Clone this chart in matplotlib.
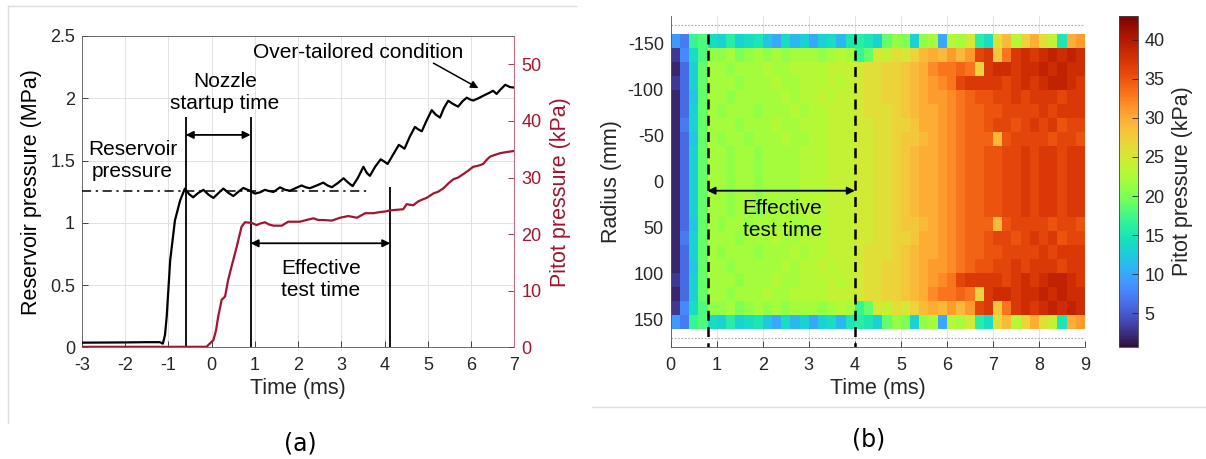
import numpy as np
import matplotlib
matplotlib.use("Agg")
import matplotlib.pyplot as plt
from matplotlib.lines import Line2D

plt.rcParams['font.family'] = ['Liberation Sans', 'DejaVu Sans']
plt.rcParams['axes.unicode_minus'] = False

# ---- (a) reservoir pressure trace, MPa
res_t = [-3.0, -2.0, -1.5, -1.2, -1.13, -1.08, -1.04, -0.96, -0.85, -0.73, -0.62,
         -0.52, -0.43, -0.31, -0.19, -0.07, 0.04, 0.16, 0.27, 0.39, 0.50, 0.62,
         0.73, 0.87, 1.00, 1.12, 1.23, 1.33, 1.43, 1.58, 1.70, 1.81, 1.95, 2.08,
         2.18, 2.27, 2.43, 2.58, 2.68, 2.78, 2.92, 3.05, 3.15, 3.26, 3.38, 3.51,
         3.59, 3.66, 3.78, 3.91, 4.00, 4.07, 4.20, 4.33, 4.40, 4.46, 4.58, 4.70,
         4.78, 4.86, 4.97, 5.09, 5.18, 5.28, 5.37, 5.47, 5.58, 5.70, 5.80, 5.90,
         5.98, 6.05, 6.17, 6.28, 6.40, 6.51, 6.59, 6.68, 6.79, 6.90, 7.00]
res_p = [0.038, 0.040, 0.042, 0.042, 0.030, 0.10, 0.25, 0.70, 1.02, 1.18, 1.275,
         1.23, 1.205, 1.24, 1.265, 1.225, 1.20, 1.24, 1.275, 1.24, 1.215, 1.25,
         1.28, 1.26, 1.235, 1.245, 1.265, 1.255, 1.248, 1.285, 1.265, 1.258, 1.28, 1.30,
         1.285, 1.278, 1.30, 1.323, 1.30, 1.286, 1.32, 1.358, 1.325, 1.295, 1.36, 1.45,
         1.40, 1.377, 1.45, 1.51, 1.49, 1.473, 1.55, 1.626, 1.61, 1.595, 1.69, 1.77,
         1.75, 1.735, 1.82, 1.905, 1.87, 1.845, 1.92, 1.98, 1.955, 1.933, 1.975, 2.005,
         1.99, 1.982, 2.00, 2.02, 2.04, 2.06, 2.035, 2.07, 2.108, 2.09, 2.086]

# ---- (a) pitot pressure trace, kPa
pit_t = [-3.0, -0.12, 0.04, 0.10, 0.15, 0.23, 0.31, 0.38, 0.46, 0.58, 0.69, 0.77,
         0.92, 1.04, 1.13, 1.23, 1.33, 1.43, 1.62, 1.77, 2.04, 2.19, 2.35, 2.47,
         2.58, 2.78, 2.97, 3.16, 3.36, 3.55, 3.74, 3.89, 4.01, 4.125, 4.28, 4.43,
         4.51, 4.58, 4.66, 4.78, 4.90, 4.97, 5.13, 5.24, 5.36, 5.48, 5.59, 5.70,
         5.82, 5.93, 6.05, 6.17, 6.28, 6.37, 6.44, 6.55, 6.67, 6.82, 7.00]
pit_p = [0.1, 0.1, 1.3, 3.0, 5.4, 8.4, 9.0, 11.9, 14.3, 17.8, 21.3, 22.1,
         22.0, 21.6, 21.9, 22.1, 21.7, 21.5, 21.5, 22.2, 22.2, 22.5, 22.8, 22.5,
         22.5, 22.4, 22.9, 23.2, 22.9, 23.7, 23.7, 23.9, 24.0, 24.2, 24.3, 24.4,
         25.3, 25.2, 25.1, 25.8, 26.2, 26.4, 27.2, 27.5, 28.1, 29.0, 29.7, 30.0,
         30.6, 31.2, 31.9, 32.1, 32.4, 33.2, 33.7, 34.0, 34.3, 34.5, 34.7]

# event times (ms) and levels (MPa)
startup_start = -0.6
test_start = 0.9
test_end = 4.13
reservoir_level = 1.256

# ---- (b) pitot rake, kPa, 0.2 ms columns from 0 to 9 ms
t_edges = np.round(np.arange(0, 9.01, 0.2), 2)
r_edges = np.linspace(-160, 160, 22)

row_150 = [9, 7, 17, 18, 14,  13, 16, 13, 14, 15,  12, 10, 14, 11, 13,
           10, 13, 14, 11, 15,  16, 15, 13, 19, 21,  20, 13, 21, 22, 10,
           23, 22, 25, 16, 14,  26, 29, 23, 27, 30,  26, 24, 15, 30, 31]
row_135 = [3, 8, 14, 18, 21,  21, 22, 20, 21, 22,  21, 22, 21, 22, 22,
           22, 21, 22, 23, 22,  17, 19, 25, 24, 26,  25, 27, 29, 30, 29,
           31, 29, 31, 36, 37,  28, 33, 37, 38, 37,  38, 39, 38, 39, 38]
row_120 = [2, 6, 13, 19, 22,  22, 21, 22, 22, 22,  23, 22, 22, 23, 23,
           23, 23, 24, 24, 24,  25, 26, 26, 27, 27,  28, 29, 30, 32, 33,
           33, 34, 33, 27, 37,  38, 38, 37, 38, 38,  39, 38, 39, 38, 38]
row_105 = [3, 6, 13, 19, 22,  22, 22, 21, 22, 22,  22, 23, 22, 22, 23,
           23, 23, 24, 23, 24,  25, 26, 26, 27, 27,  28, 29, 30, 31, 32,
           33, 36, 37, 37, 37,  37, 36, 37, 38, 37,  38, 39, 39, 38, 37]
row_90 = [2, 6, 12, 19, 22,  22, 21, 22, 22, 22,  22, 22, 23, 22, 23,
          23, 24, 23, 24, 24,  25, 26, 26, 27, 27,  28, 29, 30, 31, 31,
          32, 33, 34, 35, 35,  36, 36, 37, 36, 37,  37, 37, 36, 37, 37]
row_75 = [2, 6, 13, 19, 22,  21, 22, 22, 22, 21,  22, 22, 22, 23, 22,
          23, 23, 24, 24, 24,  25, 26, 26, 26, 27,  28, 29, 30, 30, 31,
          32, 33, 34, 34, 35,  35, 36, 36, 36, 36,  37, 36, 37, 37, 37]
row_60 = [2, 7, 13, 19, 22,  22, 22, 21, 22, 22,  22, 23, 22, 22, 23,
          23, 23, 24, 24, 24,  25, 25, 26, 26, 27,  27, 28, 30, 30, 31,
          32, 33, 34, 34, 35,  36, 36, 35, 36, 37,  36, 37, 35, 36, 36]
row_45 = [2, 6, 12, 19, 22,  21, 22, 22, 21, 22,  22, 22, 23, 22, 22,
          23, 23, 24, 24, 24,  25, 25, 26, 26, 27,  28, 28, 29, 30, 31,
          32, 33, 34, 34, 34,  29, 35, 36, 36, 36,  36, 35, 36, 36, 35]
row_core = [2, 6, 13, 19, 22,  22, 21, 22, 22, 21,  22, 22, 22, 22, 23,
            23, 23, 24, 24, 24,  25, 25, 26, 26, 27,  28, 29, 30, 30, 31,
            32, 33, 34, 34, 35,  35, 36, 36, 37, 36,  37, 37, 36, 37, 37]

rake = np.array([row_150, row_135, row_120, row_105, row_90, row_75, row_60, row_45,
                 row_core, row_core, row_core, row_core, row_core,
                 row_45, row_60, row_75, row_90, row_105, row_120, row_135, row_150])

b_test_start = 0.8
b_test_end = 4.0
nozzle_edge = 170

W, H = 1206, 459
ink = '#262626'
crimson = '#a2142f'
gridc = '#e2e2e2'


def box(x0, y0, x1, y1):
    return [x0 / W, 1 - y1 / H, (x1 - x0) / W, (y1 - y0) / H]


fig = plt.figure(figsize=(W / 100, H / 100), dpi=100)

# panel frames
fig.add_artist(Line2D([8 / W, 576 / W], [1 - 6 / H, 1 - 6 / H], color='#dcdcdc', lw=1))
fig.add_artist(Line2D([8 / W, 8 / W], [1 - 6 / H, 1 - 423 / H], color='#dcdcdc', lw=1))
fig.add_artist(Line2D([592 / W, 1], [1 - 406.7 / H, 1 - 406.7 / H], color='#dcdcdc', lw=1))

# ---------------- (a)
ax1 = fig.add_axes(box(82, 36, 514.3, 347.4))
ax1.plot(res_t, res_p, color='k', lw=1.6, zorder=4)
ax1.set_xlim(-3, 7)
ax1.set_ylim(0, 2.5)
ax1.set_xticks(range(-3, 8))
ax1.set_yticks([0, 0.5, 1, 1.5, 2, 2.5])
ax1.set_yticklabels(['0', '0.5', '1', '1.5', '2', '2.5'])
ax1.grid(True, color=gridc, lw=0.7)
ax1.set_axisbelow(True)
ax1.tick_params(direction='in', length=4, width=0.6, labelsize=13, colors=ink, pad=5)
ax1.tick_params(axis='x', pad=7)
ax1.tick_params(axis='y', right=False)
for s in ['left', 'bottom', 'top']:
    ax1.spines[s].set_color('#555555')
    ax1.spines[s].set_linewidth(0.6)
ax1.spines['right'].set_visible(False)
ax1.set_xlabel('Time (ms)', fontsize=15.5, color=ink, labelpad=3)
ax1.set_ylabel('Reservoir pressure (MPa)', fontsize=15.5, color='k', labelpad=6)

ax2 = ax1.twinx()
ax2.plot(pit_t, pit_p, color=crimson, lw=1.6, zorder=3)
ax2.set_ylim(0, 55)
ax2.set_yticks(range(0, 60, 10))
ax2.tick_params(direction='in', length=4, width=0.6, labelsize=13, colors=crimson, pad=5)
for s in ['left', 'bottom', 'top']:
    ax2.spines[s].set_visible(False)
ax2.spines['right'].set_color('#c7707f')
ax2.spines['right'].set_linewidth(0.8)
ax2.set_ylabel('Pitot pressure (kPa)', fontsize=15.5, color=crimson, labelpad=6)

# annotations on the reservoir axis
ax1.vlines([startup_start, test_start], 0, 1.848, color='k', lw=1.3, zorder=5)
ax1.vlines(test_end, 0, 1.286, color='k', lw=1.3, zorder=5)
ax1.plot([-3, 3.66], [reservoir_level, reservoir_level], color='k', lw=1.1,
         ls=(0, (6, 3, 1.5, 3)), zorder=5)
dbl = dict(arrowstyle='<|-|>', color='k', lw=1.3, mutation_scale=11, shrinkA=0, shrinkB=0)
ax1.annotate('', xy=(startup_start, 1.706), xytext=(test_start, 1.706), arrowprops=dbl)
ax1.annotate('', xy=(test_start, 0.836), xytext=(test_end, 0.836), arrowprops=dbl)
ax1.annotate('', xy=(6.17, 2.081), xytext=(5.13, 2.282),
             arrowprops=dict(arrowstyle='-|>', color='k', lw=1.1, mutation_scale=11,
                             shrinkA=0, shrinkB=0))
tk = dict(fontsize=15, ha='center', va='center', color='k', linespacing=1.2, zorder=6)
ax1.text(3.38, 2.37, 'Over-tailored condition', **tk)
ax1.text(0.31, 2.047, 'Nozzle\nstartup time', **tk)
ax1.text(-1.83, 1.497, 'Reservoir\npressure', **tk)
ax1.text(2.53, 0.549, 'Effective\ntest time', **tk)

# ---------------- (b)
ax3 = fig.add_axes(box(670.7, 15.7, 1085, 347.3))
mesh = ax3.pcolormesh(t_edges, r_edges, rake, cmap='turbo', vmin=0.7, vmax=43.1,
                      shading='flat', zorder=1)
ax3.set_xlim(0, 9)
ax3.set_ylim(180, -180)
ax3.set_xticks(range(0, 10))
ax3.set_yticks([-150, -100, -50, 0, 50, 100, 150])
ax3.grid(True, color=gridc, lw=0.7)
ax3.set_axisbelow(True)
ax3.tick_params(direction='in', length=4, width=0.6, labelsize=13, colors=ink, pad=5)
ax3.tick_params(axis='x', pad=7)
for s in ['top', 'right']:
    ax3.spines[s].set_visible(False)
for s in ['left', 'bottom']:
    ax3.spines[s].set_color('#555555')
    ax3.spines[s].set_linewidth(0.6)
ax3.set_xlabel('Time (ms)', fontsize=15.5, color=ink, labelpad=3)
ax3.set_ylabel('Radius (mm)', fontsize=15.5, color=ink, labelpad=4)

for r in (-nozzle_edge, nozzle_edge):
    ax3.axhline(r, color='#a8a8a8', lw=0.8, ls=(0, (1.5, 1.5)), zorder=0.8)
ax3.vlines([b_test_start, b_test_end], -160, 180, color='k', lw=1.8,
           linestyles=(0, (4, 2.5)), zorder=4)
ax3.annotate('', xy=(b_test_start, 10), xytext=(b_test_end, 10), arrowprops=dbl)
ax3.text(2.42, 41.5, 'Effective\ntest time', **tk)

cax = fig.add_axes(box(1119.4, 15.7, 1137.6, 346.7))
cb = fig.colorbar(mesh, cax=cax, ticks=range(5, 45, 5))
cb.outline.set_linewidth(0.6)
cb.outline.set_edgecolor('#444444')
cax.tick_params(direction='in', length=4, width=0.6, labelsize=13, colors=ink, pad=5)
cb.set_label('Pitot pressure (kPa)', fontsize=15.5, color=ink, labelpad=5)

fig.text(300.4 / W, 1 - 443 / H, '(a)', family='DejaVu Sans', fontsize=17,
         ha='center', va='center', color='k')
fig.text(868.3 / W, 1 - 440 / H, '(b)', family='DejaVu Sans', fontsize=17,
         ha='center', va='center', color='k')

fig.savefig('out.png', dpi=100)
